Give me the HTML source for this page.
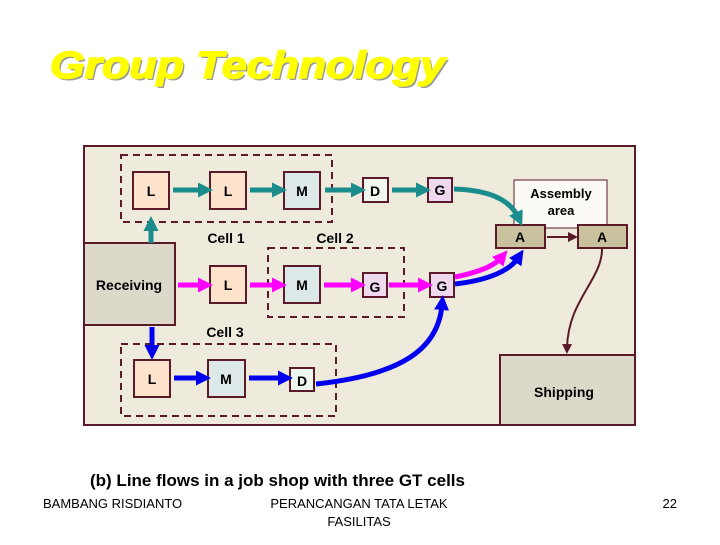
<!DOCTYPE html>
<html><head><meta charset="utf-8"><style>
body{margin:0;width:720px;height:540px;background:#fff;overflow:hidden;font-family:"Liberation Sans",sans-serif}
</style></head><body>
<svg width="720" height="540" viewBox="0 0 720 540" xmlns="http://www.w3.org/2000/svg" font-family="Liberation Sans, sans-serif">
<defs>
<marker id="mt" markerWidth="3" markerHeight="3" refX="1" refY="1.5" orient="auto" markerUnits="strokeWidth"><path d="M0,0 L3,1.5 L0,3 z" fill="#1a8c8c"/></marker>
<marker id="mm" markerWidth="3" markerHeight="3" refX="1" refY="1.5" orient="auto" markerUnits="strokeWidth"><path d="M0,0 L3,1.5 L0,3 z" fill="#ff00ff"/></marker>
<marker id="mb" markerWidth="3" markerHeight="3" refX="1" refY="1.5" orient="auto" markerUnits="strokeWidth"><path d="M0,0 L3,1.5 L0,3 z" fill="#0000ee"/></marker>
<marker id="md" markerWidth="5" markerHeight="5" refX="2" refY="2.5" orient="auto" markerUnits="strokeWidth"><path d="M0,0 L5,2.5 L0,5 z" fill="#5a1a2a"/></marker>
</defs>
<g font-size="38" font-weight="bold" font-style="italic">
<text x="52" y="80" fill="#999" textLength="395" lengthAdjust="spacingAndGlyphs">Group Technology</text>
<text x="50" y="78" fill="#ffff00" stroke="#ffff00" stroke-width="1.5" textLength="395" lengthAdjust="spacingAndGlyphs">Group Technology</text>
</g>
<rect x="84" y="146" width="551" height="279" fill="#eeebdd" stroke="#5a1a2a" stroke-width="2"/>
<g fill="none" stroke="#5a1a2a" stroke-width="2" stroke-dasharray="7,5">
<rect x="121" y="155" width="211" height="67"/>
<rect x="268" y="248" width="136" height="69"/>
<rect x="121" y="344" width="215" height="72"/>
</g>
<rect x="514" y="180" width="93" height="48" fill="#fbfaf5" stroke="#5a1a2a" stroke-width="1"/>
<text x="561" y="198" font-size="13" font-weight="bold" text-anchor="middle">Assembly</text>
<text x="561" y="215" font-size="13" font-weight="bold" text-anchor="middle">area</text>
<rect x="84" y="243" width="91" height="82" fill="#dcd9ca" stroke="#5a1a2a" stroke-width="2"/>
<text x="129" y="290" font-size="14" font-weight="bold" text-anchor="middle">Receiving</text>
<rect x="500" y="355" width="135" height="70" fill="#dcd9ca" stroke="#5a1a2a" stroke-width="2"/>
<text x="564" y="397" font-size="14" font-weight="bold" text-anchor="middle">Shipping</text>
<g stroke="#5a1a2a" stroke-width="2">
<rect x="133" y="172" width="36" height="37" fill="#fde3cc"/>
<rect x="210" y="172" width="36" height="37" fill="#fde3cc"/>
<rect x="284" y="172" width="36" height="37" fill="#dde9e8"/>
<rect x="363" y="178" width="25" height="24" fill="#eef8ee"/>
<rect x="428" y="178" width="24" height="24" fill="#efd9ee"/>
<rect x="210" y="266" width="36" height="37" fill="#fde3cc"/>
<rect x="284" y="266" width="36" height="37" fill="#dde9e8"/>
<rect x="363" y="273" width="24" height="24" fill="#efd9ee"/>
<rect x="430" y="273" width="24" height="24" fill="#efd9ee"/>
<rect x="134" y="360" width="36" height="37" fill="#fde3cc"/>
<rect x="208" y="360" width="37" height="37" fill="#dde9e8"/>
<rect x="290" y="368" width="24" height="23" fill="#eef8ee"/>
<rect x="496" y="225" width="49" height="23" fill="#cac29e"/>
<rect x="578" y="225" width="49" height="23" fill="#cac29e"/>
</g>
<g font-size="14" font-weight="bold" text-anchor="middle" fill="#000">
<text x="151" y="196">L</text><text x="228" y="196">L</text><text x="302" y="196">M</text>
<text x="375" y="196">D</text><text x="440" y="195">G</text>
<text x="228" y="290">L</text><text x="302" y="290">M</text>
<text x="375" y="292">G</text><text x="442" y="291">G</text>
<text x="152" y="384">L</text><text x="226" y="384">M</text><text x="302" y="386">D</text>
<text x="520" y="242">A</text><text x="602" y="242">A</text>
<text x="226" y="243">Cell 1</text><text x="335" y="243">Cell 2</text><text x="225" y="337">Cell 3</text>
</g>
<g fill="none" stroke-width="5">
<path d="M151 243 V226" stroke="#1a8c8c" marker-end="url(#mt)"/>
<path d="M173 190 H203" stroke="#1a8c8c" marker-end="url(#mt)"/>
<path d="M250 190 H277" stroke="#1a8c8c" marker-end="url(#mt)"/>
<path d="M325 190 H356" stroke="#1a8c8c" marker-end="url(#mt)"/>
<path d="M392 190 H421" stroke="#1a8c8c" marker-end="url(#mt)"/>
<path d="M454 189 C490 190 510 200 518 217" stroke="#1a8c8c" marker-end="url(#mt)"/>
<path d="M178 285 H203" stroke="#ff00ff" marker-end="url(#mm)"/>
<path d="M250 285 H277" stroke="#ff00ff" marker-end="url(#mm)"/>
<path d="M324 285 H356" stroke="#ff00ff" marker-end="url(#mm)"/>
<path d="M389 285 H423" stroke="#ff00ff" marker-end="url(#mm)"/>
<path d="M455 277 C480 272 495 265 501 258" stroke="#ff00ff" marker-end="url(#mm)"/>
<path d="M455 284 C490 280 510 270 518 258" stroke="#0000ee" marker-end="url(#mb)"/>
<path d="M152 327 V350" stroke="#0000ee" marker-end="url(#mb)"/>
<path d="M174 378 H201" stroke="#0000ee" marker-end="url(#mb)"/>
<path d="M249 378 H283" stroke="#0000ee" marker-end="url(#mb)"/>
<path d="M316 384 C400 375 438 350 442 305" stroke="#0000ee" marker-end="url(#mb)"/>
</g>
<path d="M547 237 H572" stroke="#5a1a2a" stroke-width="2" marker-end="url(#md)" fill="none"/>
<path d="M602 249 C602 280 568 300 567 348" stroke="#5a1a2a" stroke-width="2" marker-end="url(#md)" fill="none"/>
<text x="90" y="486" font-size="17" font-weight="bold">(b) Line flows in a job shop with three GT cells</text>
<text x="43" y="508" font-size="13">BAMBANG RISDIANTO</text>
<text x="359" y="508" font-size="13" text-anchor="middle">PERANCANGAN TATA LETAK</text>
<text x="359" y="526" font-size="13" text-anchor="middle">FASILITAS</text>
<text x="677" y="508" font-size="13" text-anchor="end">22</text>
</svg>
</body></html>
